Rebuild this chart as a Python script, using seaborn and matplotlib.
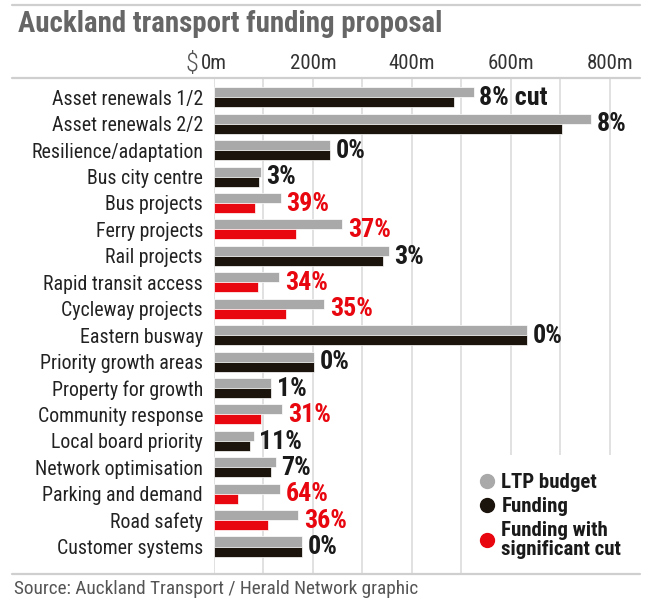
import numpy as np
import pandas as pd
import matplotlib
matplotlib.use("Agg")
import matplotlib.pyplot as plt
import seaborn as sns
from matplotlib import font_manager as fm
from matplotlib.lines import Line2D
from matplotlib.patches import Rectangle
from matplotlib.ticker import MultipleLocator, FixedLocator

# ---------------- data ----------------
categories = [
    "Asset renewals 1/2", "Asset renewals 2/2", "Resilience/adaptation",
    "Bus city centre", "Bus projects", "Ferry projects", "Rail projects",
    "Rapid transit access", "Cycleway projects", "Eastern busway",
    "Priority growth areas", "Property for growth", "Community response",
    "Local board priority", "Network optimisation", "Parking and demand",
    "Road safety", "Customer systems",
]
ltp_budget = [525, 762, 234, 94, 135, 259, 353, 132, 223, 633,
              202, 116, 138, 80, 125, 133, 170, 178]
funding = [485, 703, 234, 91, 82, 165, 341, 88, 145, 633,
           202, 115, 96, 72, 116, 48, 110, 178]
significant_cut = [False, False, False, False, True, True, False, True, True,
                   False, False, False, True, False, False, True, True, False]
pct_labels = ["8% cut", "8%", "0%", "3%", "39%", "37%", "3%", "34%", "35%",
              "0%", "0%", "1%", "31%", "11%", "7%", "64%", "36%", "0%"]
tick_values = [0, 200, 400, 600, 800]
tick_labels = ["0m", "200m", "400m", "600m", "800m"]
legend_labels = ["LTP budget", "Funding", "Funding with\nsignificant cut"]

GRAY = "#a9a9a9"
BLACK = "#1b140c"
RED = "#e8060f"

# ---------------- fonts ----------------
names = {f.name for f in fm.fontManager.ttflist}
cond_roboto = any(f.name == "Roboto" and str(f.stretch) in ("condensed", "semi-condensed", "75", "87")
                  for f in fm.fontManager.ttflist)
if "Roboto Condensed" in names:
    FAM, STR, COND = "Roboto Condensed", "normal", True
elif cond_roboto:
    FAM, STR, COND = "Roboto", "condensed", True
elif "Liberation Sans Narrow" in names:
    FAM, STR, COND = "Liberation Sans Narrow", "normal", True
else:
    FAM, STR, COND = "Roboto", "normal", False

sns.set_theme(style="white")
plt.rcParams["font.family"] = [FAM, "DejaVu Sans"]
plt.rcParams["font.stretch"] = STR

k = 1.0 if COND else 0.86  # shrink for non-condensed font

# ---------------- figure ----------------
W, H = 650, 598
fig = plt.figure(figsize=(W / 100, H / 100), dpi=100)
fig.patch.set_facecolor("white")

ax_l, ax_r, ax_t, ax_b = 214, 637, 78, 574
ax = fig.add_axes([ax_l / W, 1 - ax_b / H, (ax_r - ax_l) / W, (ax_b - ax_t) / H])

n = len(categories)
df = pd.DataFrame({
    "category": categories * 2,
    "value": ltp_budget + funding,
    "series": ["LTP budget"] * n + ["Funding"] * n,
})

sns.barplot(data=df, x="value", y="category", hue="series",
            hue_order=["LTP budget", "Funding"],
            palette={"LTP budget": GRAY, "Funding": BLACK},
            orient="h", width=0.76, saturation=1, errorbar=None,
            legend=False, ax=ax, edgecolor="white", linewidth=0.5, zorder=3)

# recolour funding bars with significant cut
for patch, cut in zip(ax.containers[1], significant_cut):
    if cut:
        patch.set_facecolor(RED)

ax.set_xlim(0, 855)
ax.set_ylim(n - 1 + 1.04, -0.73)

ax.xaxis.tick_top()
ax.xaxis.set_major_locator(FixedLocator(tick_values))
ax.set_xticklabels(tick_labels)
ax.xaxis.set_minor_locator(MultipleLocator(100))
ax.grid(True, axis="x", which="both", color="#dedede", linewidth=1.3, zorder=0)
ax.grid(False, axis="y")
ax.set_axisbelow(True)
ax.tick_params(axis="x", which="both", length=0, pad=3.5, labelsize=15 * k,
               labelcolor="#333333")
ax.tick_params(axis="y", length=0, pad=8, labelsize=14.3 * k, labelcolor="#222222")
ax.set_xlabel("")
ax.set_ylabel("")
for s in ax.spines.values():
    s.set_visible(False)

# percentage labels
for i, (lb, fd, lab, cut) in enumerate(zip(ltp_budget, funding, pct_labels, significant_cut)):
    ax.annotate(lab, xy=(max(lb, fd), i), xytext=(4, -0.5), textcoords="offset points",
                ha="left", va="center", fontsize=18.7 * k, fontweight="bold",
                color=RED if cut else "#1a1a1a", zorder=5)

# white box behind legend
ax.add_patch(Rectangle(((470 - ax_l) / (ax_r - ax_l), 0), 1.0, (ax_b - 455) / (ax_b - ax_t),
                       transform=ax.transAxes, facecolor="white", edgecolor="none",
                       zorder=1, clip_on=False))

handles = [Line2D([], [], marker="o", linestyle="", color=c, markersize=10)
           for c in (GRAY, BLACK, RED)]
leg = ax.legend(handles, legend_labels, loc="upper left",
                bbox_to_anchor=((469 - ax_l) / (ax_r - ax_l), 1 - (463 - ax_t) / (ax_b - ax_t)),
                frameon=False, borderpad=0, handlelength=0.7, handletextpad=0.35,
                labelspacing=0.22, prop={"weight": "bold", "size": 15 * k})
for t in leg.get_texts():
    t.set_color("#1a1a1a")
    t.set_linespacing(1.0)
leg.set_zorder(6)

# figure-level lines and texts
for yy in (5, ax_t, ax_b):
    fig.add_artist(Line2D([12 / W, 640 / W], [1 - yy / H] * 2, transform=fig.transFigure,
                          color="#cfcfcf", linewidth=1.6))

fig.text(18 / W, 1 - 24 / H, "Auckland transport funding proposal", fontsize=20.8 * k,
         fontweight="bold", color="#666666", ha="left", va="center")
fig.text(192 / W, 1 - 64 / H, "$", fontsize=19, color="#555555", ha="center",
         va="center", fontweight="light")
fig.text(14 / W, 1 - 589 / H, "Source: Auckland Transport / Herald Network graphic",
         fontsize=13.9 * k, color="#555555", ha="left", va="center")

fig.savefig("out.png", dpi=100, facecolor="white")
